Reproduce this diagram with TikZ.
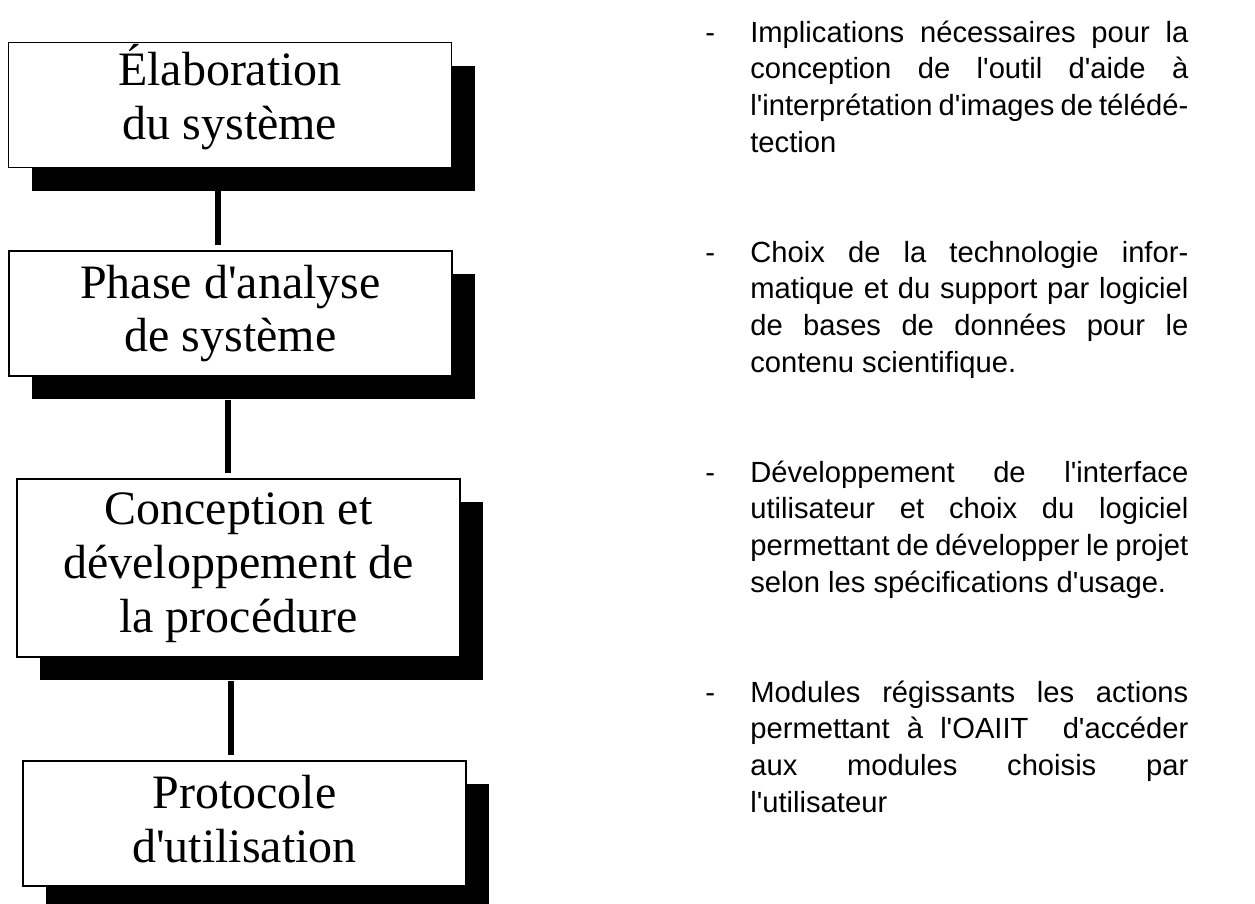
\documentclass[tikz,border=0pt]{standalone}
\usepackage{fontspec}
\newfontfamily\boxfont{Liberation Serif}
\newfontfamily\itemfont{Liberation Sans}
\usetikzlibrary{calc,positioning,shadows}
\setlength{\parindent}{0pt}
\tolerance=10000
\newcommand{\tiret}{\leavevmode\llap{\makebox[0.9cm][l]{-}}}

\begin{document}
\begin{tikzpicture}[
    phase/.style={draw, line width=1pt, fill=white, minimum width=8.86cm,
        minimum height=2.5cm, inner sep=0pt, align=center,
        font=\boxfont\fontsize{27.3}{30.7}\selectfont,
        drop shadow={shadow xshift=0.46cm, shadow yshift=-0.46cm, fill=black, opacity=1}},
    lien/.style={line width=3.4pt},
    remarque/.style={anchor=base west, inner sep=0pt, text width=8.76cm, align=justify,
        font=\itemfont\fontsize{16.6}{21}\selectfont}
  ]
  \useasboundingbox (0,0) rectangle (25.1,-18.06);
  \node[phase, text depth=15pt] (elab) at (4.60,-2.10) {Élaboration\\du système};
  \node[phase] (analyse) at (4.61,-6.27) {Phase d'analyse\\de système};
  \node[phase, minimum height=3.56cm] (concep) at (4.77,-11.36) {Conception et\\développement de\\la procédure};
  \node[phase, text depth=5.5pt] (proto) at (4.89,-16.47) {Protocole\\d'utilisation};
  \foreach \a/\b/\dx in {elab/analyse/-0.24, analyse/concep/-0.05, concep/proto/-0.15}
      \draw[lien] ($(\a.south)+(\dx,-0.46)$) -- ($(\a.south |- \b.north)+(\dx,0.1)$);
  \node[remarque] (impl) at (15.0,-0.84) {\tiret Implications nécessaires pour la\linebreak
      conception de l'outil d'aide à\linebreak
      l'interprétation d'images de télédé-\linebreak tection};
  \node[remarque] (choix) at (15.0,-5.24) {\tiret Choix de la technologie infor-\linebreak
      matique et du support par logiciel\linebreak
      de bases de données pour le\linebreak contenu scientifique.};
  \node[remarque] (devel) at (15.0,-9.64) {\tiret Développement de l'interface\linebreak
      utilisateur et choix du logiciel\linebreak
      permettant de développer le projet\linebreak selon les spécifications d'usage.};
  \node[remarque] (modules) at (15.0,-14.04) {\tiret Modules régissants les actions\linebreak
      permettant à l'OAIIT\ \ d'accéder\linebreak
      aux modules choisis par\linebreak l'utilisateur};
\end{tikzpicture}
\end{document}
